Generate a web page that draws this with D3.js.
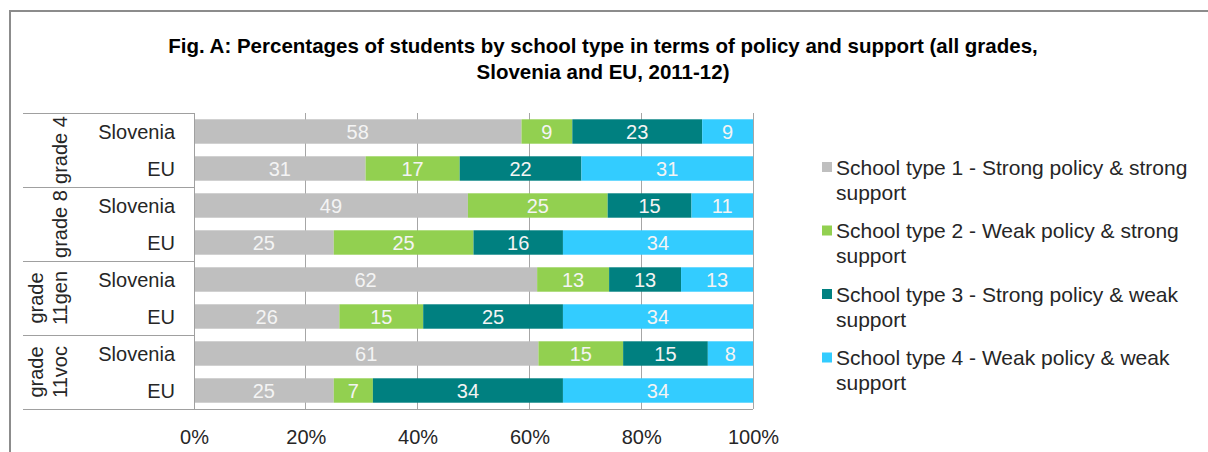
<!DOCTYPE html>
<html><head><meta charset="utf-8">
<script src="https://cdn.jsdelivr.net/npm/d3@7/dist/d3.min.js"></script>
<style>body{margin:0;background:#fff}svg{display:block;font-family:"Liberation Sans",Arial,sans-serif}</style>
</head><body><svg id="c" width="1208" height="452"></svg>
<script>
const groups = [["grade 4"], ["grade 8"], ["grade", "11gen"], ["grade", "11voc"]];
const rowLabels = ["Slovenia", "EU", "Slovenia", "EU", "Slovenia", "EU", "Slovenia", "EU"];
const seriesNames = [
  ["School type 1 - Strong policy & strong", "support"],
  ["School type 2 - Weak policy & strong", "support"],
  ["School type 3 - Strong policy & weak", "support"],
  ["School type 4 - Weak policy & weak", "support"]
];
const type1 = [58, 31, 49, 25, 62, 26, 61, 25];
const type2 = [9, 17, 25, 25, 13, 15, 15, 7];
const type3 = [23, 22, 15, 16, 13, 25, 15, 34];
const type4 = [9, 31, 11, 34, 13, 34, 8, 34];
const colors = ["#bfbfbf", "#92d050", "#008080", "#33ccff"];
const tickValues = [0, 0.2, 0.4, 0.6, 0.8, 1];

(function () {
const svg = d3.select("#c");
const fs = 20;
// outer frame
svg.append("rect").attr("x", 10).attr("y", 11).attr("width", 1250).attr("height", 500)
  .attr("fill", "none").attr("stroke", "#8c8c8c").attr("stroke-width", 2);

// title
const title = svg.append("text").attr("text-anchor", "middle").attr("font-weight", "bold")
  .attr("font-size", 20.5).attr("fill", "#000");
title.append("tspan").attr("x", 603).attr("y", 53).text("Fig. A: Percentages of students by school type in terms of policy and support (all grades,");
title.append("tspan").attr("x", 603).attr("y", 79).text("Slovenia and EU, 2011-12)");

const pLeft = 194, pRight = 753, pTop = 113, pBottom = 409;
const rows = d3.range(rowLabels.length);
const data = rows.map(i => ({i, s1: type1[i], s2: type2[i], s3: type3[i], s4: type4[i]}));
const keys = ["s1", "s2", "s3", "s4"];
const stack = d3.stack().keys(keys).offset(d3.stackOffsetExpand)(data);

const x = d3.scaleLinear().domain([0, 1]).range([pLeft, pRight]);
const y = d3.scaleBand().domain(rows).range([pTop, pBottom]).paddingInner(0.34).paddingOuter(0.17);

// gridlines
svg.append("g").selectAll("line").data(tickValues.slice(1)).join("line")
  .attr("x1", d => x(d)).attr("x2", d => x(d)).attr("y1", pTop).attr("y2", pBottom)
  .attr("stroke", "#a6a6a6").attr("stroke-width", 1).attr("shape-rendering", "crispEdges");

// bars
const layer = svg.append("g").selectAll("g").data(stack).join("g")
  .attr("fill", (d, k) => colors[k]);
layer.selectAll("rect").data(d => d).join("rect")
  .attr("x", d => x(d[0])).attr("width", d => x(d[1]) - x(d[0]))
  .attr("y", d => y(d.data.i)).attr("height", y.bandwidth());

// bar labels
const vals = [type1, type2, type3, type4];
stack.forEach((s, k) => {
  svg.append("g").selectAll("text").data(s).join("text")
    .attr("x", d => (x(d[0]) + x(d[1])) / 2)
    .attr("y", d => y(d.data.i) + y.bandwidth() / 2)
    .attr("dy", "0.36em").attr("text-anchor", "middle")
    .attr("font-size", fs).attr("fill", "#f4f4f4")
    .text(d => vals[k][d.data.i]);
});

// x axis
const xAxis = svg.append("g").attr("transform", `translate(0,${pBottom})`)
  .call(d3.axisBottom(x).tickValues(tickValues).tickFormat(d3.format(".0%")).tickSize(0).tickPadding(20));
xAxis.select(".domain").remove();
xAxis.selectAll("text").attr("font-size", fs).attr("fill", "#262626")
  .attr("font-family", "Liberation Sans, Arial, sans-serif").attr("dy", "0.35em").attr("y", 28);

// axis lines and category box
const lc = "#a0a0a0";
svg.append("line").attr("x1", pLeft).attr("x2", pLeft).attr("y1", pTop).attr("y2", pBottom)
  .attr("stroke", lc).attr("shape-rendering", "crispEdges");
svg.append("line").attr("x1", 23).attr("x2", pRight).attr("y1", pBottom).attr("y2", pBottom)
  .attr("stroke", lc).attr("shape-rendering", "crispEdges");
const groupBounds = [0, 2, 4, 6].map(i => y(i) - y.step() * y.paddingInner() / 2);
svg.append("g").selectAll("line").data(groupBounds).join("line")
  .attr("x1", 23).attr("x2", pLeft).attr("y1", d => d).attr("y2", d => d)
  .attr("stroke", lc).attr("shape-rendering", "crispEdges");

// row labels
svg.append("g").selectAll("text").data(rows).join("text")
  .attr("x", 175).attr("y", d => y(d) + y.bandwidth() / 2).attr("dy", "0.36em")
  .attr("text-anchor", "end").attr("font-size", fs).attr("fill", "#262626")
  .text(d => rowLabels[d]);

// group labels (rotated)
groups.forEach((g, gi) => {
  const cy = (y(gi * 2) + y(gi * 2 + 1) + y.bandwidth()) / 2;
  g.forEach((line, li) => {
    const cx = g.length === 1 ? 60 : 36 + li * 24;
    svg.append("text").attr("transform", `translate(${cx},${cy}) rotate(-90)`)
      .attr("text-anchor", "middle").attr("dy", "0.36em").attr("font-size", fs)
      .attr("fill", "#262626").text(line);
  });
});

// legend
const leg = svg.append("g");
seriesNames.forEach((n, k) => {
  const ly = 167 + k * 63.5;
  leg.append("rect").attr("x", 822).attr("y", ly - 5).attr("width", 10).attr("height", 10).attr("fill", colors[k]);
  const t = leg.append("text").attr("font-size", 21).attr("fill", "#262626");
  t.append("tspan").attr("x", 836).attr("y", ly).attr("dy", "0.36em").text(n[0]);
  t.append("tspan").attr("x", 836).attr("y", ly + 25).attr("dy", "0.36em").text(n[1]);
});
})();
</script></body></html>
